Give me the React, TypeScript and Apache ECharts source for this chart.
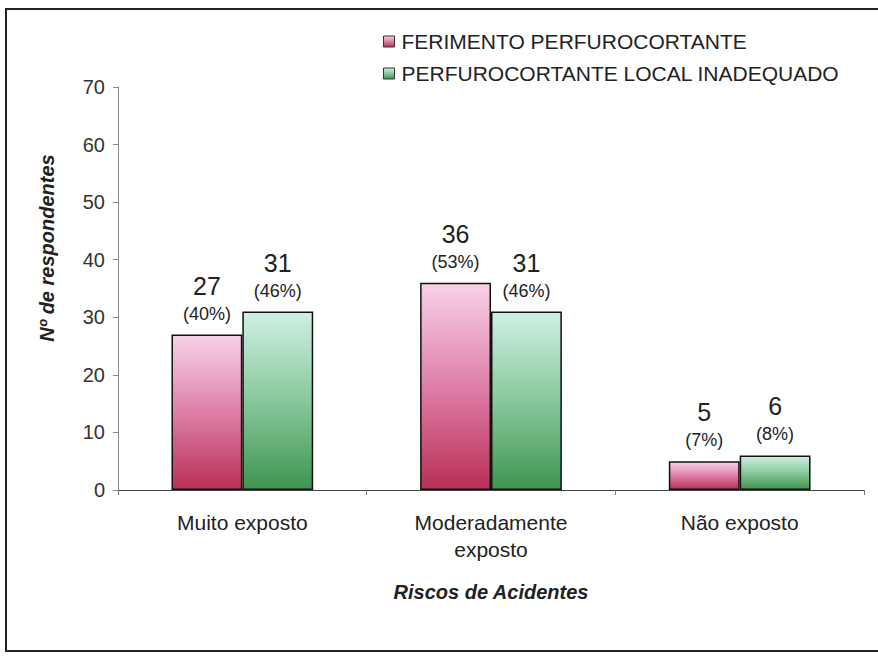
import React, { useEffect, useRef } from "react";
import * as echarts from "echarts";

const categories = ["Muito exposto", "Moderadamente\nexposto", "Não exposto"];
const seriesNames = ["FERIMENTO PERFUROCORTANTE", "PERFUROCORTANTE LOCAL INADEQUADO"];
const ferimento = [27, 36, 5];
const ferimentoPct = [40, 53, 7];
const localInadequado = [31, 31, 6];
const localInadequadoPct = [46, 46, 8];
const yTicks = [0, 10, 20, 30, 40, 50, 60, 70];

const FONT = "'Liberation Sans', Arial, sans-serif";

const pinkGrad = () =>
  new echarts.graphic.LinearGradient(0, 0, 0, 1, [
    { offset: 0, color: "#f8d2e6" },
    { offset: 0.5, color: "#de7fa8" },
    { offset: 1, color: "#b92f55" },
  ]);
const greenGrad = () =>
  new echarts.graphic.LinearGradient(0, 0, 0, 1, [
    { offset: 0, color: "#d0efe4" },
    { offset: 0.5, color: "#88c89c" },
    { offset: 1, color: "#3f9550" },
  ]);

export default function App() {
  const ref = useRef<HTMLDivElement>(null);
  useEffect(() => {
    if (!ref.current) return;
    const chart = echarts.init(ref.current, null, { renderer: "svg" });
    const makeLabel = (pcts: number[]) => ({
      show: true,
      position: "top" as const,
      distance: 9,
      formatter: (p: any) => `{a|${p.value}}\n{b|(${pcts[p.dataIndex]}%)}`,
      rich: {
        a: { fontSize: 25, lineHeight: 32, color: "#222", fontFamily: FONT, align: "center" },
        b: { fontSize: 18, lineHeight: 24, color: "#222", fontFamily: FONT, align: "center" },
      },
    });
    chart.setOption({
      animation: false,
      backgroundColor: "#ffffff",
      textStyle: { fontFamily: FONT },
      grid: { left: 118, right: 14, top: 87, bottom: 168, containLabel: false },
      legend: {
        orient: "vertical",
        left: 383,
        top: 31,
        padding: 0,
        itemWidth: 11,
        itemHeight: 11,
        itemGap: 11,
        icon: "rect",
        textStyle: { fontSize: 21, color: "#222", fontFamily: FONT, lineHeight: 20, padding: [0, 0, 0, 2] },
        data: seriesNames.map((n) => ({ name: n, itemStyle: { borderColor: "#333", borderWidth: 1 } })),
      },
      xAxis: {
        type: "category",
        data: categories,
        name: "Riscos de Acidentes",
        nameLocation: "middle",
        nameGap: 92,
        nameTextStyle: { fontSize: 20, fontWeight: "bold", fontStyle: "italic", color: "#222", fontFamily: FONT },
        axisLine: { lineStyle: { color: "#444", width: 1.2 } },
        axisTick: { show: true, length: 5, lineStyle: { color: "#777" } },
        axisLabel: { fontSize: 21, color: "#222", margin: 19, lineHeight: 27, fontFamily: FONT },
      },
      yAxis: {
        type: "value",
        min: yTicks[0],
        max: yTicks[yTicks.length - 1],
        interval: 10,
        axisLine: { show: true, lineStyle: { color: "#888", width: 1 } },
        axisTick: { show: true, length: 5, lineStyle: { color: "#888" } },
        axisLabel: { fontSize: 20, color: "#333", margin: 13, fontFamily: FONT },
        splitLine: { show: false },
      },
      graphic: [
        {
          type: "rect",
          shape: { x: 6, y: 9, width: 900, height: 642 },
          style: { fill: "none", stroke: "#222", lineWidth: 2 },
          silent: true,
        },
        {
          type: "text",
          x: 47,
          y: 248,
          rotation: Math.PI / 2,
          style: {
            text: "Nº de respondentes",
            fontSize: 20,
            fontWeight: "bold",
            fontStyle: "italic",
            fill: "#222",
            fontFamily: FONT,
            align: "center",
            verticalAlign: "middle",
          },
        },
      ],
      series: [
        {
          name: seriesNames[0],
          type: "bar",
          data: ferimento,
          barGap: "0%",
          barCategoryGap: "43%",
          itemStyle: { color: pinkGrad(), borderColor: "#111", borderWidth: 1.5 },
          label: makeLabel(ferimentoPct),
        },
        {
          name: seriesNames[1],
          type: "bar",
          data: localInadequado,
          barGap: "0%",
          barCategoryGap: "43%",
          itemStyle: { color: greenGrad(), borderColor: "#111", borderWidth: 1.5 },
          label: makeLabel(localInadequadoPct),
        },
      ],
    });
    return () => chart.dispose();
  }, []);
  return (
    <div
      ref={ref}
      style={{ position: "absolute", left: 0, top: 0, width: 878, height: 658 }}
    />
  );
}
